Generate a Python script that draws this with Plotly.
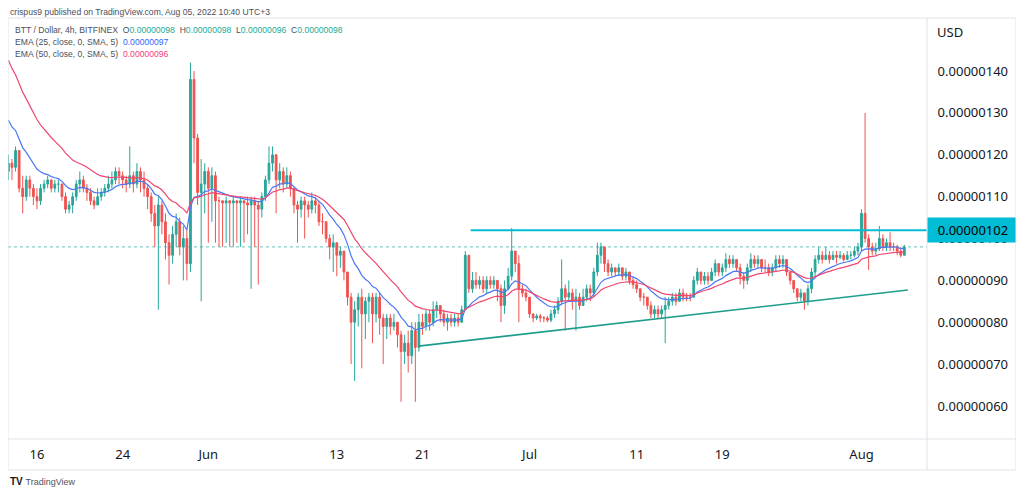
import plotly.graph_objects as go
import pandas as pd

# ---------------- data (prices in units of 1e-8 USD) ----------------
START = "2022-05-13 08:00"
BAR_HOURS = 8
FIRST_OPEN = 116
CLOSE = [
    118, 117,
    121, 112, 110,  114, 112, 110,  109, 112, 113,  114, 112, 113,  113, 110, 107,  108, 110, 113,  114, 112, 111,
    109, 108, 110,  111, 112, 113,  114, 116, 115,  114, 113, 115,  113, 116, 114,  112, 110, 106,  103, 108, 104,
    99, 96, 101,  104, 98, 100,  94, 138, 124,  111, 113, 116,
    112, 115, 109,  109, 108.5, 109,  108.5, 109, 108.5,  109, 108.5, 108,  109, 108, 107,  110, 114, 118,  120, 114, 116,
    113, 115, 112,  108, 107, 109,  108, 107, 109,  108, 104, 104,  100, 98, 99,  96, 97, 92,  86, 80, 83,
    86, 82, 85,  86, 82, 86,  81, 79, 81,  79, 80, 77,  73, 75, 72,  78, 74, 80,  79, 82, 80,
    83, 84, 82,  80, 81, 80,  81, 80, 83,  96, 88, 90,  89, 90, 88,  90, 89, 90,  88, 84, 88,
    91, 97, 94,  88, 87, 86,
    82, 81, 81.5,  81, 81, 80.5,  82, 83, 85,  88, 86, 87,  85, 86, 84,  86, 88, 87,  92, 96, 98,
    94, 92, 93,  92, 93, 91,  92, 90, 89,  88, 86, 86,  84, 82, 83,  82, 83, 84,  85, 86, 85,
    87, 86, 86,  86, 90, 92,  90, 91, 90,  92, 94, 92,  93, 95, 94,  95, 93, 91,  90, 93, 95,
    94, 95, 93,  93, 92, 93,  95, 94, 95,  92, 90, 88,  86, 87, 85,  88, 92, 95,  96, 95, 96,
    95, 96, 95.5,  96, 95, 96,  96, 97, 98,
    106, 100, 98,  97, 97.5, 100,  98, 99, 98,  98, 97, 96,  98,
]
HIGH = [
    120, 119,
    122, 121, 115,  115, 115, 113,  112, 113, 114,  115, 114, 114,  114, 113, 111,  109, 111, 114,  116, 115, 113,
    112, 110, 112,  112, 113, 115,  116, 117, 117,  116, 115, 122,  116, 118, 117,  116, 113, 111,  108, 110, 109,
    106, 101, 103,  106, 105, 103,  102, 142, 140,  125, 119, 118,
    117, 117, 116,  110, 109, 110,  109, 110, 109,  110, 109, 110,  110, 110, 109,  111, 115, 122,  122, 120, 118,
    117, 117, 116,  112, 109, 110,  110, 109, 111,  110, 109, 106,  104, 101, 101,  99, 98, 97,  92, 87, 85,
    87, 88, 86,  87, 87, 87,  87, 82, 82,  82, 82, 80,  78, 77, 78,  80, 80, 82,  82, 83, 83,
    85, 85, 84,  83, 82, 82,  82, 82, 84,  97, 96, 92,  92, 91, 91,  91, 91, 91,  90, 89, 90,
    93, 102.5, 97,  96, 89, 88,
    86, 82, 82,  82, 81.5, 81.5,  83, 84, 86,  95, 89, 90,  88, 88, 87,  88, 89, 89,  93, 99, 99,
    98, 95, 94,  93, 94, 93,  93, 92, 91,  90, 88, 87,  86, 85, 84,  84, 84, 86,  86, 87, 87,
    88, 88, 87,  87, 91, 93,  92, 92, 92,  93, 95, 94,  94, 96.5, 96,  96, 95, 94,  92, 94, 96.5,
    96, 96, 95,  95, 94, 94,  96, 96, 96,  95, 92, 90,  88, 88, 87,  89, 93, 96,  98, 97, 98,
    97, 97, 97,  97, 96.5, 97,  97, 98, 99,
    107, 130, 101,  99, 99, 103,  101, 100, 101.5,  99, 98.5, 98,  98.5,
]
LOW = [
    114, 114,
    116, 111, 106,  109, 110, 108,  107, 108, 111,  112, 111, 111,  111, 109, 106,  106, 106, 109,  111, 111, 109,
    108, 107, 108,  109, 110, 111,  112, 113, 113,  112, 111, 112,  111, 112, 111,  110, 107, 104,  98, 83, 101,
    95, 89, 94,  98, 96, 90,  90, 92, 118,  108, 85, 106,
    99, 104, 99,  98, 98, 99,  98, 98, 99,  98, 99, 101,  88, 98, 89,  105, 109, 113,  116, 106, 112,
    111, 112, 110,  106, 99, 105,  100, 105, 106,  106, 103, 101,  99, 95, 92,  91, 93, 90,  84, 70, 66,
    79, 69, 76,  80, 75, 80,  77, 70, 76,  77, 78, 74,  61, 70, 68,  70, 61, 73,  77, 78, 78,
    79, 81, 80,  79, 78, 79,  79, 79, 80,  83, 87, 87,  88, 88, 87,  87, 88, 88,  85, 80, 82,
    88, 90, 92,  80, 86, 85,
    81, 80, 80.5,  80, 80, 80,  80, 81, 82,  84, 78, 85,  83, 78, 83,  84, 85, 85,  86, 91, 94,
    92, 91, 91,  91, 91, 90,  90, 89, 88,  87, 85, 84,  83, 81, 81,  81, 81, 75,  83, 84, 84,
    85, 85, 85,  85, 86, 89,  89, 89, 89,  90, 91, 91,  91, 92, 93,  93, 92, 89,  88, 89, 92,
    93, 93, 92,  92, 91, 91,  92, 93, 93,  91, 89, 87,  85, 85, 83,  84, 87, 91,  94, 94, 95,
    94, 95, 94,  95, 94.5, 95,  95, 95.5, 96,
    97, 99, 92.5,  96, 96, 97,  97, 97, 97,  97, 96, 95.5,  96,
]
UNIT = 1e-8

# values printed in the chart's legend (last 4h bar and indicator readings)
LEGEND_OHLC_KEYS = ["O", "H", "L", "C"]
LEGEND_OHLC = [98, 98, 96, 98]
LEGEND_EMA = [97, 96]

EMA_FAST_LEN_4H = 25
EMA_SLOW_LEN_4H = 50
EMA_FAST_SEED = 128.3
EMA_SLOW_SEED = 142.6

X_TICKS = ["2022-05-16", "2022-05-24", "2022-06-01", "2022-06-13", "2022-06-21",
           "2022-07-01", "2022-07-11", "2022-07-19", "2022-08-01"]
X_TICK_TEXT = ["16", "24", "Jun", "13", "21", "Jul", "11", "19", "Aug"]
Y_TICKS = [60, 70, 80, 90, 100, 110, 120, 130, 140]
X_RANGE = ["2022-05-13 07:05", "2022-08-07 02:47"]
Y_RANGE = [52.12, 152.66]

RESISTANCE = 102
RESIST_START = "2022-06-25 12:00"
TREND_X = ["2022-06-20 15:00", "2022-08-05 08:00"]
TREND_Y = [74.3, 87.7]

# ---------------- derived series ----------------
n = len(CLOSE)
times = pd.date_range(START, periods=n, freq=f"{BAR_HOURS}h")
opens = [FIRST_OPEN] + CLOSE[:-1]
highs = [max(h, o, c) for h, o, c in zip(HIGH, opens, CLOSE)]
lows = [min(l, o, c) for l, o, c in zip(LOW, opens, CLOSE)]


def ema(values, length_bars, seed):
    alpha = 2.0 / (length_bars + 1.0)
    out, e = [], seed
    for i, v in enumerate(values):
        if i > 0:
            e = e + alpha * (v - e)
        out.append(e)
    return out


bars_per_4h = BAR_HOURS / 4.0
ema_fast = ema(CLOSE, EMA_FAST_LEN_4H / bars_per_4h, EMA_FAST_SEED)
ema_slow = ema(CLOSE, EMA_SLOW_LEN_4H / bars_per_4h, EMA_SLOW_SEED)

sc = lambda arr: [v * UNIT for v in arr]

UP = "#26a69a"
DOWN = "#ef5350"
BLUE = "#4a78f5"
PINK = "#ef476f"
LEG_UP = "#22ab94"
LEG_BLUE = "#2f66ff"
LEG_PINK = "#f0427a"
CYAN = "#00bcd4"
TREND = "#1e9e8a"
FRAME = "#e0e3eb"
TXT = "#131722"
FONT = "Noto Sans"
SMALL = "Liberation Sans"

fig = go.Figure()
fig.add_trace(go.Candlestick(
    x=times, open=sc(opens), high=sc(highs), low=sc(lows), close=sc(CLOSE),
    increasing=dict(line=dict(color=UP, width=1), fillcolor=UP),
    decreasing=dict(line=dict(color=DOWN, width=1), fillcolor=DOWN),
    whiskerwidth=0, hoverinfo="skip", showlegend=False,
))
fig.add_trace(go.Scatter(x=times, y=sc(ema_fast), mode="lines",
                         line=dict(color=BLUE, width=1.2), hoverinfo="skip", showlegend=False))
fig.add_trace(go.Scatter(x=times, y=sc(ema_slow), mode="lines",
                         line=dict(color=PINK, width=1.2), hoverinfo="skip", showlegend=False))
fig.add_trace(go.Scatter(x=TREND_X, y=sc(TREND_Y), mode="lines",
                         line=dict(color=TREND, width=1.6), hoverinfo="skip", showlegend=False))
fig.add_trace(go.Scatter(x=[RESIST_START, X_RANGE[1]], y=sc([RESISTANCE, RESISTANCE]), mode="lines",
                         line=dict(color=CYAN, width=2), hoverinfo="skip", showlegend=False))

# page body has an 8px margin: figure is placed at (8, 8) in the window
FR = 1.0968   # right edge of frame (paper units)
FB = -0.0736  # bottom edge of frame (paper units)
shapes = [
    dict(type="line", xref="paper", x0=0, x1=1, yref="y", y0=CLOSE[-1] * UNIT, y1=CLOSE[-1] * UNIT,
         line=dict(color="rgba(38,166,154,0.7)", width=1, dash="dot"), layer="below"),
    dict(type="rect", xref="paper", yref="paper", x0=0, x1=FR, y0=FB, y1=1,
         line=dict(color=FRAME, width=1)),
    dict(type="line", xref="paper", yref="paper", x0=1, x1=1, y0=FB, y1=1,
         line=dict(color=FRAME, width=1)),
    dict(type="line", xref="paper", yref="paper", x0=0, x1=FR, y0=0, y1=0,
         line=dict(color=FRAME, width=1)),
]

fmt = lambda v: f"{v * UNIT:.8f}"
line1 = "BTT / Dollar, 4h, BITFINEX&nbsp;&nbsp;" + "&nbsp;&nbsp;".join(
    f"{k}<span style='color:{LEG_UP}'>{fmt(v)}</span>" for k, v in zip(LEGEND_OHLC_KEYS, LEGEND_OHLC))
line2 = f"EMA (25, close, 0, SMA, 5)&nbsp;&nbsp;<span style='color:{LEG_BLUE}'>{fmt(LEGEND_EMA[0])}</span>"
line3 = f"EMA (50, close, 0, SMA, 5)&nbsp;&nbsp;<span style='color:{LEG_PINK}'>{fmt(LEGEND_EMA[1])}</span>"

small_font = dict(family=SMALL, size=8.6, color="#4c4f5a")
annotations = [
    dict(text="crispus9 published on TradingView.com, Aug 05, 2022 10:40 UTC+3", xref="paper", yref="paper",
         x=0.0, y=1.0143, xanchor="left", yanchor="middle", showarrow=False, font=small_font),
    dict(text=line1, xref="paper", yref="paper", x=0.0054, y=0.971, xanchor="left", yanchor="middle",
         showarrow=False, font=small_font),
    dict(text=line2, xref="paper", yref="paper", x=0.0054, y=0.9429, xanchor="left", yanchor="middle",
         showarrow=False, font=small_font),
    dict(text=line3, xref="paper", yref="paper", x=0.0054, y=0.9145, xanchor="left", yanchor="middle",
         showarrow=False, font=small_font),
    dict(text="USD", xref="paper", yref="paper", x=1.0087, y=0.9667, xanchor="left", yanchor="middle",
         showarrow=False, font=dict(family=FONT, size=13, color=TXT)),
    dict(text=f"&nbsp;&nbsp;{fmt(RESISTANCE)}&nbsp;", xref="paper", yref="y", x=1.0, y=RESISTANCE * UNIT,
         xanchor="left", yanchor="middle", showarrow=False, bgcolor=CYAN, borderpad=3,
         font=dict(family=FONT, size=13, color="#000000")),
    dict(text="<b>TV</b> <span style='font-size:9px;color:#50535e'>TradingView</span>", xref="paper",
         yref="paper", x=0.0, y=-0.102, xanchor="left", yanchor="middle", showarrow=False,
         font=dict(family=SMALL, size=10, color=TXT)),
]

fig.update_layout(
    width=1016, height=487,
    margin=dict(l=0, r=97, t=10, b=56),
    paper_bgcolor="white", plot_bgcolor="white",
    showlegend=False,
    shapes=shapes, annotations=annotations,
    xaxis=dict(type="date", range=X_RANGE, rangeslider=dict(visible=False),
               tickvals=X_TICKS, ticktext=X_TICK_TEXT, showgrid=False, zeroline=False,
               showline=False, ticks="outside", ticklen=3, tickcolor="rgba(0,0,0,0)",
               tickfont=dict(family=FONT, size=13, color=TXT)),
    yaxis=dict(side="right", range=[v * UNIT for v in Y_RANGE],
               tickvals=[v * UNIT for v in Y_TICKS], tickformat=".8f",
               showgrid=False, zeroline=False, showline=False,
               ticks="outside", ticklen=7, tickcolor="rgba(0,0,0,0)",
               tickfont=dict(family=FONT, size=13, color=TXT)),
)

fig.write_html("out.html")
